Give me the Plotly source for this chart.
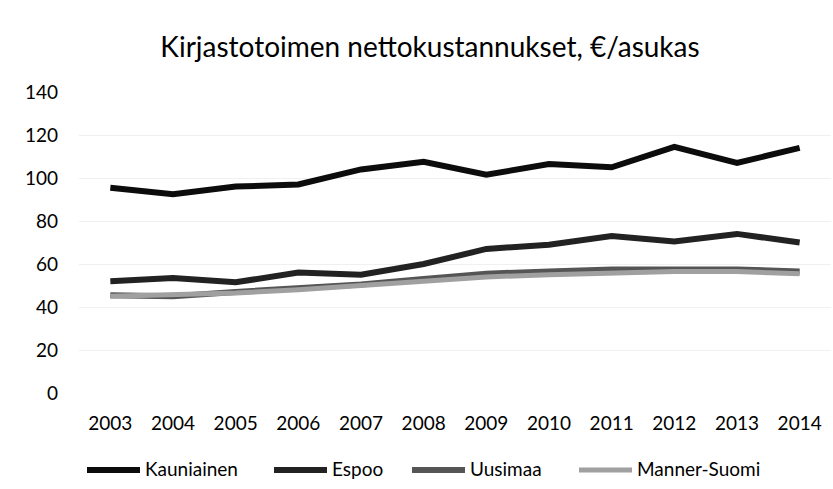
import plotly.graph_objects as go

years = ["2003", "2004", "2005", "2006", "2007", "2008", "2009", "2010", "2011", "2012", "2013", "2014"]
kauniainen = [95.5, 92.5, 96, 97, 104, 107.5, 101.5, 106.5, 105, 114.5, 107, 114]
espoo = [52, 53.5, 51.5, 56, 55, 60, 67, 69, 73, 70.5, 74, 70]
uusimaa = [45.5, 45, 47, 48.5, 50.5, 53, 55.5, 56.5, 57.5, 57.5, 57.5, 56.5]
manner_suomi = [45, 45.5, 46.5, 48, 50, 52, 54, 55, 56, 56.5, 56.5, 55.5]
y_ticks = [0, 20, 40, 60, 80, 100, 120, 140]
series_names = ["Kauniainen", "Espoo", "Uusimaa", "Manner-Suomi"]

series_values = [kauniainen, espoo, uusimaa, manner_suomi]
colors = ["#0c0c0c", "#222222", "#555555", "#a0a0a0"]
widths = [6, 6, 6, 5]

W, H = 833, 489
L, R, T, B = 79, 2, 92, 96
PW = W - L - R
PH = H - T - B

font = "Lato, Open Sans, sans-serif"
fig = go.Figure()
for name, vals, color, w in zip(series_names, series_values, colors, widths):
    fig.add_trace(go.Scatter(x=years, y=vals, name=name, mode="lines",
                             line=dict(color=color, width=w), showlegend=False))

# legend drawn manually (line sample + label), positions in pixels
legend_text_x = [143, 330, 468, 635]
legend_y_px = 469
shapes = []
annotations = []
for name, color, w, tx in zip(series_names, colors, widths, legend_text_x):
    x0 = (tx - 56 - L) / PW
    x1 = (tx - 3 - L) / PW
    yy = (H - B - legend_y_px - 1) / PH
    shapes.append(dict(type="line", xref="paper", yref="paper", x0=x0, x1=x1, y0=yy, y1=yy,
                       line=dict(color=color, width=w)))
    annotations.append(dict(text=name, xref="paper", yref="paper", x=(tx - L) / PW,
                            y=(H - B - legend_y_px) / PH, xanchor="left", yanchor="middle",
                            showarrow=False, font=dict(family=font, size=19, color="#000000")))

fig.update_layout(
    width=W, height=H,
    margin=dict(l=L, r=R, t=T, b=B),
    paper_bgcolor="white", plot_bgcolor="white",
    title=dict(text="Kirjastotoimen nettokustannukset, €/asukas", x=430 / W, xanchor="center",
               y=1 - 47 / H, yanchor="middle",
               font=dict(family=font, size=28, color="#000000")),
    font=dict(family=font, size=19, color="#000000"),
    showlegend=False,
    shapes=shapes,
    annotations=annotations,
    xaxis=dict(type="category", range=[-0.5, 11.5], showgrid=False, showline=False, ticks="",
               ticklabelstandoff=17, tickfont=dict(size=19)),
    yaxis=dict(range=[0, 140], tickvals=y_ticks, showgrid=True, gridcolor="#f0f0f0",
               gridwidth=1, zeroline=False, showline=False, ticks="",
               ticklabelstandoff=20, tickfont=dict(size=19)),
)

fig.write_html("out.html", config={"displayModeBar": False},
               post_script="document.body.style.margin='0';document.body.style.overflow='hidden';")
